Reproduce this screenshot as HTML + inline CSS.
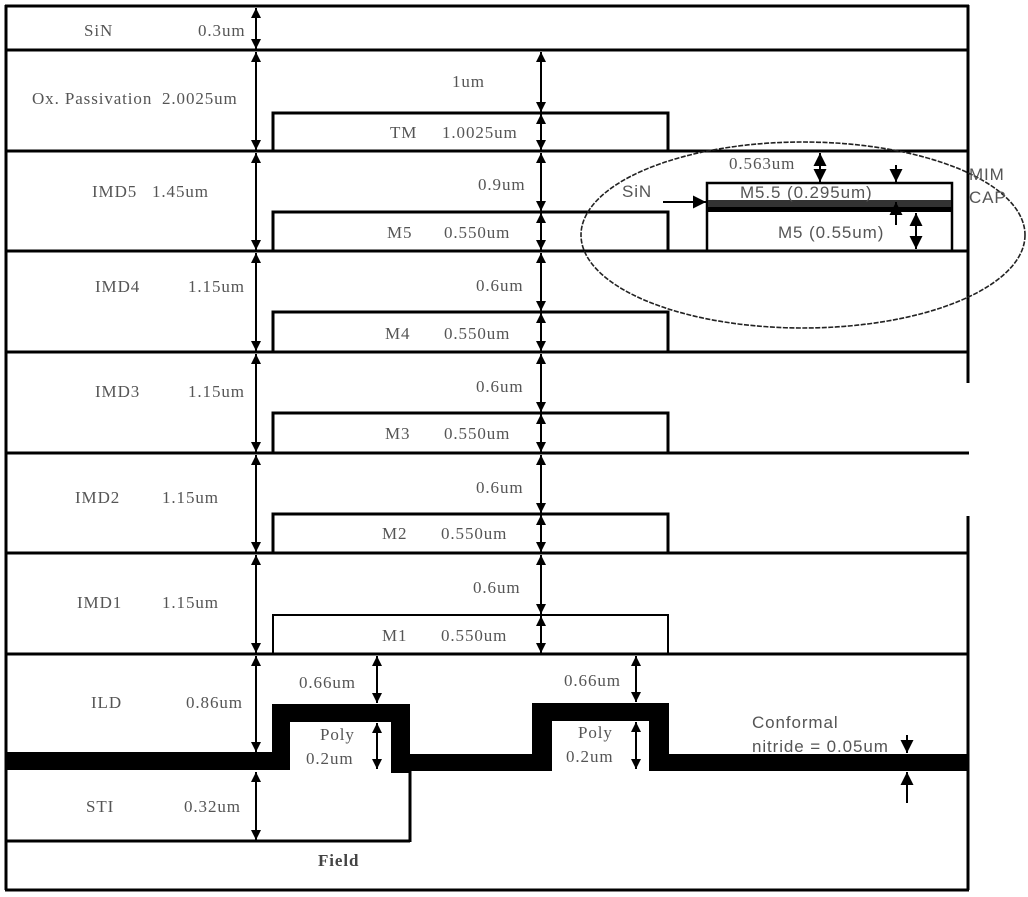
<!DOCTYPE html>
<html><head><meta charset="utf-8"><style>
html,body{margin:0;padding:0;background:#fff;}
svg{display:block;}
.t{font-family:"Liberation Serif",serif;font-size:17px;letter-spacing:0.9px;fill:#555;}
.s{font-family:"Liberation Sans",sans-serif;font-size:17px;letter-spacing:0.9px;fill:#555;}
</style></head><body>
<svg width="1028" height="897" viewBox="0 0 1028 897" xmlns="http://www.w3.org/2000/svg">
<defs>
<marker id="a" viewBox="0 0 10 10" refX="10" refY="5" markerWidth="10" markerHeight="10" orient="auto-start-reverse" markerUnits="userSpaceOnUse"><path d="M0,0L10,5L0,10z" fill="#000"/></marker>
<marker id="b" viewBox="0 0 10 10" refX="10" refY="5" markerWidth="13" markerHeight="13" orient="auto-start-reverse" markerUnits="userSpaceOnUse"><path d="M0,0L10,5L0,10z" fill="#000"/></marker>
</defs>
<g stroke="#000" stroke-width="3" fill="none">
<line x1="6" y1="5" x2="6" y2="890"/>
<line x1="968" y1="5" x2="968" y2="383"/>
<line x1="968" y1="516" x2="968" y2="890"/>
<line x1="5" y1="6" x2="969" y2="6"/>
<line x1="5" y1="50" x2="969" y2="50"/>
<line x1="5" y1="151" x2="969" y2="151"/>
<line x1="5" y1="251" x2="969" y2="251"/>
<line x1="5" y1="352" x2="969" y2="352"/>
<line x1="5" y1="453" x2="969" y2="453"/>
<line x1="5" y1="553" x2="969" y2="553"/>
<line x1="5" y1="654" x2="969" y2="654"/>
<line x1="5" y1="890" x2="969" y2="890"/>
<polyline points="273,151 273,113 668,113 668,151"/>
<polyline points="273,251 273,212 668,212 668,251"/>
<polyline points="273,352 273,312 668,312 668,352"/>
<polyline points="273,453 273,413 668,413 668,453"/>
<polyline points="273,553 273,514 668,514 668,553"/>
<polyline points="273,654 273,615 668,615 668,654" stroke-width="2"/>
<line x1="5" y1="841" x2="410" y2="841"/>
<line x1="410" y1="771" x2="410" y2="842"/>
<rect x="707" y="183" width="245" height="68" stroke-width="2.5"/>
</g>
<rect x="708" y="200" width="243" height="7" fill="#333"/>
<rect x="708" y="207" width="243" height="5" fill="#000"/>
<ellipse cx="803" cy="235" rx="222" ry="93" fill="none" stroke="#222" stroke-width="1.6" stroke-dasharray="5,1.5"/>
<g fill="#000">
<rect x="6" y="752" width="267" height="18"/>
<path d="M272,770 L272,704 L410,704 L410,773 L391,773 L391,722 L290,722 L290,770 Z"/>
<rect x="391" y="754" width="141" height="17"/>
<path d="M532,771 L532,703 L669,703 L669,771 L649,771 L649,721 L552,721 L552,771 Z"/>
<rect x="669" y="754" width="299" height="17"/>
</g>
<g stroke="#000" stroke-width="2" fill="none">
<line x1="256" y1="8" x2="256" y2="49" marker-start="url(#a)" marker-end="url(#a)"/>
<line x1="256" y1="52" x2="256" y2="150" marker-start="url(#a)" marker-end="url(#a)"/>
<line x1="256" y1="153" x2="256" y2="250" marker-start="url(#a)" marker-end="url(#a)"/>
<line x1="256" y1="253" x2="256" y2="351" marker-start="url(#a)" marker-end="url(#a)"/>
<line x1="256" y1="354" x2="256" y2="452" marker-start="url(#a)" marker-end="url(#a)"/>
<line x1="256" y1="455" x2="256" y2="552" marker-start="url(#a)" marker-end="url(#a)"/>
<line x1="256" y1="555" x2="256" y2="653" marker-start="url(#a)" marker-end="url(#a)"/>
<line x1="256" y1="656" x2="256" y2="752" marker-start="url(#a)" marker-end="url(#a)"/>
<line x1="256" y1="772" x2="256" y2="840" marker-start="url(#a)" marker-end="url(#a)"/>
<line x1="541" y1="52" x2="541" y2="112" marker-start="url(#a)" marker-end="url(#a)"/>
<line x1="541" y1="114" x2="541" y2="150" marker-start="url(#a)" marker-end="url(#a)"/>
<line x1="541" y1="153" x2="541" y2="211" marker-start="url(#a)" marker-end="url(#a)"/>
<line x1="541" y1="213" x2="541" y2="250" marker-start="url(#a)" marker-end="url(#a)"/>
<line x1="541" y1="253" x2="541" y2="311" marker-start="url(#a)" marker-end="url(#a)"/>
<line x1="541" y1="313" x2="541" y2="351" marker-start="url(#a)" marker-end="url(#a)"/>
<line x1="541" y1="354" x2="541" y2="412" marker-start="url(#a)" marker-end="url(#a)"/>
<line x1="541" y1="414" x2="541" y2="452" marker-start="url(#a)" marker-end="url(#a)"/>
<line x1="541" y1="455" x2="541" y2="513" marker-start="url(#a)" marker-end="url(#a)"/>
<line x1="541" y1="515" x2="541" y2="552" marker-start="url(#a)" marker-end="url(#a)"/>
<line x1="541" y1="555" x2="541" y2="614" marker-start="url(#a)" marker-end="url(#a)"/>
<line x1="541" y1="616" x2="541" y2="653" marker-start="url(#a)" marker-end="url(#a)"/>
<line x1="377" y1="656" x2="377" y2="703" marker-start="url(#a)" marker-end="url(#a)"/>
<line x1="377" y1="723" x2="377" y2="769" marker-start="url(#a)" marker-end="url(#a)"/>
<line x1="636" y1="656" x2="636" y2="702" marker-start="url(#a)" marker-end="url(#a)"/>
<line x1="636" y1="722" x2="636" y2="769" marker-start="url(#a)" marker-end="url(#a)"/>
<line x1="907" y1="735" x2="907" y2="753" marker-end="url(#b)"/>
<line x1="907" y1="803" x2="907" y2="772" marker-end="url(#b)"/>
<line x1="820" y1="153" x2="820" y2="182" marker-start="url(#b)" marker-end="url(#b)"/>
<line x1="916" y1="213" x2="916" y2="249" marker-start="url(#b)" marker-end="url(#b)"/>
<line x1="896" y1="225" x2="896" y2="202" marker-end="url(#b)"/>
<line x1="896" y1="165" x2="896" y2="182" marker-end="url(#b)"/>
<line x1="663" y1="202" x2="706" y2="202" marker-end="url(#b)"/>
</g>
<g class="t">
<text x="84" y="36">SiN</text><text x="198" y="36">0.3um</text>
<text x="32" y="104">Ox. Passivation</text><text x="162" y="104">2.0025um</text>
<text x="92" y="197">IMD5</text><text x="152" y="197">1.45um</text>
<text x="95" y="292">IMD4</text><text x="188" y="292">1.15um</text>
<text x="95" y="397">IMD3</text><text x="188" y="397">1.15um</text>
<text x="75" y="503">IMD2</text><text x="162" y="503">1.15um</text>
<text x="77" y="608">IMD1</text><text x="162" y="608">1.15um</text>
<text x="91" y="708">ILD</text><text x="186" y="708">0.86um</text>
<text x="86" y="812">STI</text><text x="184" y="812">0.32um</text>
<text x="452" y="87">1um</text>
<text x="390" y="138">TM</text><text x="442" y="138">1.0025um</text>
<text x="478" y="190">0.9um</text>
<text x="387" y="238">M5</text><text x="444" y="238">0.550um</text>
<text x="476" y="291">0.6um</text>
<text x="385" y="339">M4</text><text x="444" y="339">0.550um</text>
<text x="476" y="392">0.6um</text>
<text x="385" y="439">M3</text><text x="444" y="439">0.550um</text>
<text x="476" y="493">0.6um</text>
<text x="382" y="539">M2</text><text x="441" y="539">0.550um</text>
<text x="473" y="593">0.6um</text>
<text x="382" y="641">M1</text><text x="441" y="641">0.550um</text>
<text x="299" y="688">0.66um</text><text x="564" y="686">0.66um</text>
<text x="320" y="740">Poly</text><text x="306" y="764">0.2um</text>
<text x="578" y="738">Poly</text><text x="566" y="762">0.2um</text>
<text x="729" y="169">0.563um</text>
<text x="318" y="866" font-weight="bold" fill="#444">Field</text>
</g>
<g class="s">
<text x="622" y="197">SiN</text>
<text x="740" y="198">M5.5 (0.295um)</text>
<text x="778" y="238">M5 (0.55um)</text>
<text x="969" y="180">MIM</text><text x="969" y="203">CAP</text>
<text x="752" y="728">Conformal</text>
<text x="752" y="752">nitride = 0.05um</text>
</g>
</svg>
</body></html>
